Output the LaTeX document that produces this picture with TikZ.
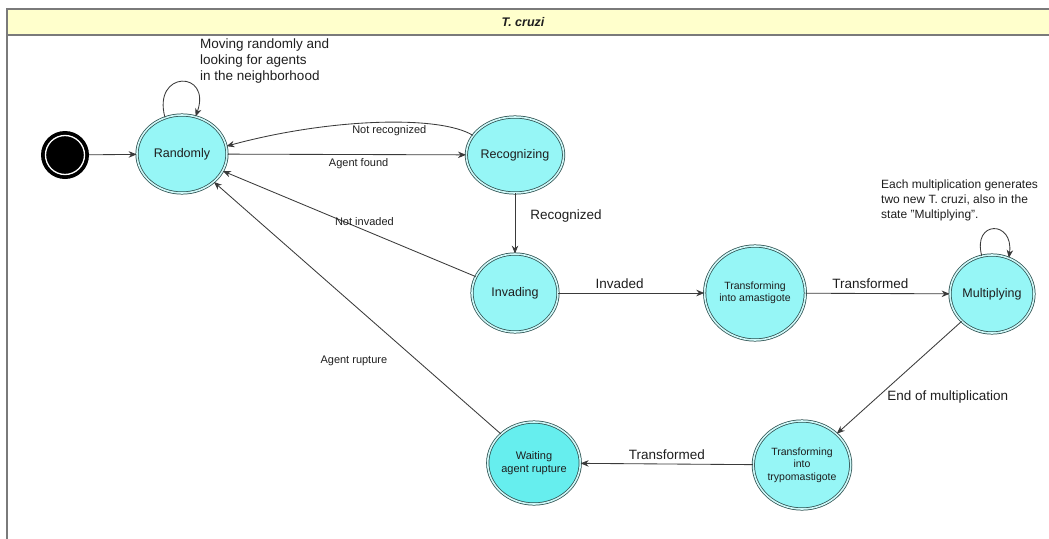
\documentclass[tikz,border=0pt]{standalone}
\usepackage{fontspec}
\setmainfont{Liberation Sans}
\usetikzlibrary{shapes.geometric,arrows.meta}
\definecolor{cyanA}{HTML}{96F6F6}
\definecolor{cyanB}{HTML}{66EEEE}
\definecolor{bord}{HTML}{2A4E4E}
\definecolor{gapc}{HTML}{CFF8F8}
\definecolor{edgec}{HTML}{3A3A3A}
\definecolor{txt}{HTML}{1E1E1E}
\definecolor{titlebg}{HTML}{FFFFCC}
\definecolor{framec}{HTML}{7A7A7A}
\begin{document}
\begin{tikzpicture}[x=1pt,y=-1pt,
 state/.style={ellipse, draw=bord, double=gapc, double distance=1.6pt, line width=0.75pt, fill=cyanA, inner sep=0pt, align=center, text=txt, font=\fontsize{12.5}{14}\selectfont},
 smallstate/.style={state, font=\fontsize{10.5}{12.5}\selectfont},
 conn/.style={draw=edgec, line width=0.85pt, -{Stealth[length=8pt,width=6.5pt]}},
 lblS/.style={text=txt, font=\fontsize{11}{13}\selectfont, inner sep=1pt},
 lblL/.style={text=txt, font=\fontsize{13.5}{16}\selectfont, inner sep=1pt},
 note/.style={text=txt, align=left, anchor=north west, inner sep=0pt},
]
\useasboundingbox (0,0) rectangle (1049,538);
\clip (0,0) rectangle (1049,538);
% frame
\draw[framec, line width=1.8pt, fill=titlebg] (7,9) rectangle (1060,35);
\draw[framec, line width=1.8pt] (7,35) -- (7,545);
\node[text=txt, font=\fontsize{12.5}{14}\selectfont\bfseries\itshape] (title) at (523,22) {T. cruzi};

% start
\node[circle, fill=black, minimum size=48pt, inner sep=0pt] (start) at (65,155) {};
\draw[white, line width=1.3pt] (start.center) circle (19.5pt);

% states
\node[state, minimum width=90pt, minimum height=78pt] (rand) at (182,154) {Randomly};
\node[state, minimum width=86pt, minimum height=76pt] (rec) at (515,155) {Recognizing};
\node[state, minimum width=86pt, minimum height=78pt] (inv) at (515,293) {Invading};
\node[smallstate, minimum width=96pt, minimum height=94pt] (amas) at (755,293) {Transforming\\into amastigote};
\node[state, minimum width=84pt, minimum height=78pt] (mult) at (992,294) {Multiplying};
\node[smallstate, minimum width=94pt, minimum height=88pt] (tryp) at (802,465) {Transforming\\into\\trypomastigote};
\node[smallstate, fill=cyanB, minimum width=92pt, minimum height=82pt, font=\fontsize{11}{13}\selectfont] (wait) at (534,463) {Waiting\\agent rupture};

% notes
\node[note, font=\fontsize{13.5}{16}\selectfont] (note1) at (200,39) {Moving randomly and\\looking for agents\\in the neighborhood};
\node[note, font=\fontsize{12}{15}\selectfont] (note2) at (881,180) {Each multiplication generates\\two new T. cruzi, also in the\\state "Multiplying".};

% connectors
\draw[conn] (start) -- (rand);
\draw[conn] (rand.115) .. controls (152,70) and (212,70) .. (rand.70);
\draw[conn] (rec.155) .. controls (440,115) and (330,118) .. (rand.10)
  node[lblS, pos=0.45, below=2pt] (l1) {Not recognized};
\draw[conn] (rand) -- (rec) node[lblS, pos=0.55, below=3pt] (l2) {Agent found};
\draw[conn] (rec) -- (inv) node[lblL, pos=0.38, right=14pt] (l3) {Recognized};
\draw[conn] (inv) -- (rand) node[lblS, pos=0.44, above=3pt] (l4) {Not invaded};
\draw[conn] (inv) -- (amas) node[lblL, pos=0.42, above=3pt] (l5) {Invaded};
\draw[conn] (amas) -- (mult) node[lblL, pos=0.45, above=3pt] (l6) {Transformed};
\draw[conn] (mult.105) .. controls (972,220) and (1014,220) .. (mult.65);
\draw[conn] (mult) -- (tryp) node[lblL, pos=0.67, right=8pt] (l7) {End of multiplication};
\draw[conn] (tryp) -- (wait) node[lblL, pos=0.5, above=3pt] (l8) {Transformed};
\draw[conn] (wait) -- (rand) node[lblS, pos=0.29, left=29pt] (l9) {Agent rupture};
\end{tikzpicture}
\end{document}
